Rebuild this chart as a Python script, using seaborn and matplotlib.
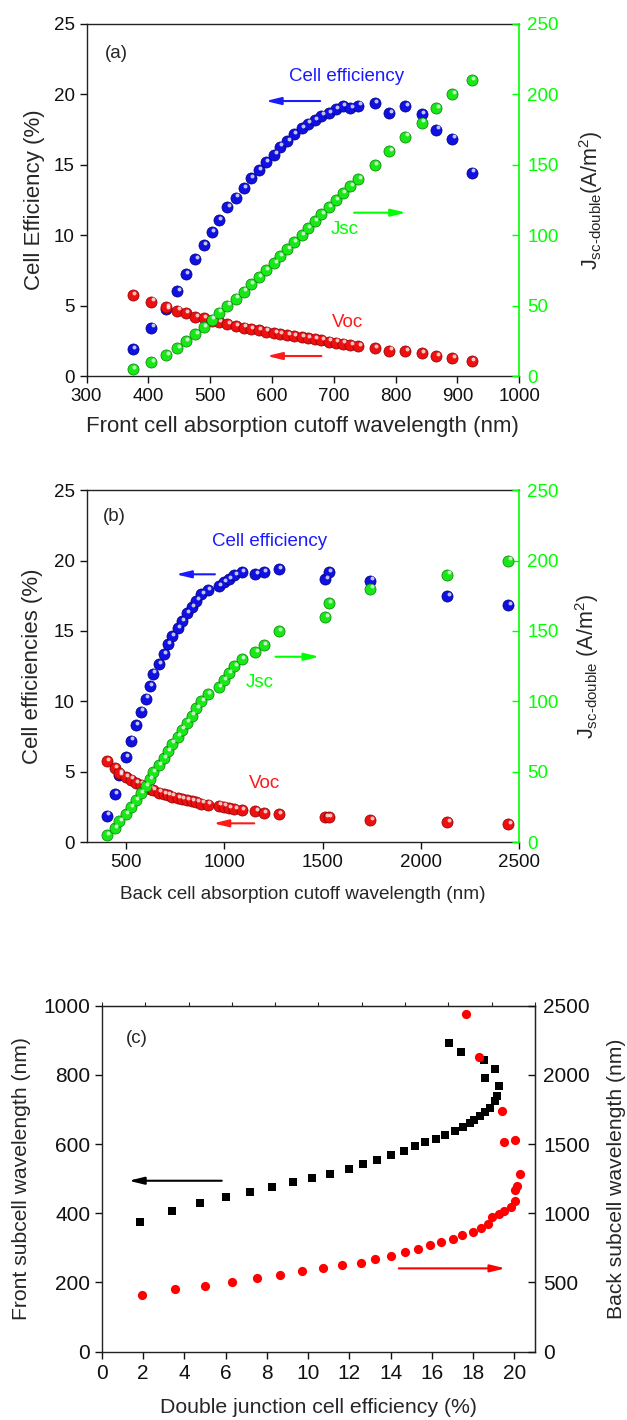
import numpy as np
import matplotlib
matplotlib.use("Agg")
import matplotlib.pyplot as plt
import matplotlib.transforms as mtransforms
import seaborn as sns

# ---------------- data ----------------
# panels (a)/(b): shared configurations
efficiency = [1.89, 3.43, 4.75, 6.04, 7.22, 8.31, 9.28, 10.2, 11.08, 11.98, 12.67, 13.37,
              14.04, 14.65, 15.2, 15.72, 16.29, 16.69, 17.16, 17.59, 17.92, 18.18, 18.49,
              18.66, 18.94, 19.18, 19.01, 19.2, 19.37, 18.66, 19.15, 18.58, 17.5, 16.86, 14.44]
voc = [5.75, 5.28, 4.92, 4.64, 4.45, 4.21, 4.1, 3.9, 3.81, 3.69, 3.53, 3.43, 3.34, 3.24,
       3.15, 3.05, 2.98, 2.91, 2.84, 2.75, 2.68, 2.6, 2.53, 2.44, 2.37, 2.3, 2.22, 2.1,
       2.0, 1.81, 1.77, 1.6, 1.42, 1.29, 1.07]
jsc = [5, 10, 15, 20, 25, 30, 35, 40, 45, 50, 55, 60, 65, 70, 75, 80, 85, 90, 95, 100,
       105, 110, 115, 120, 125, 130, 135, 140, 150, 160, 170, 180, 190, 200, 210]
front_wl = [375, 405, 429, 447, 461, 476, 490, 503, 514, 528, 542, 554, 566, 579, 590, 604,
            613, 625, 636, 649, 658, 669, 680, 692, 704, 715, 727, 740, 767, 790, 816, 843,
            866, 892, 923]
back_wl = [405, 443, 467, 501, 526, 551, 575, 600, 623, 636, 669, 692, 713, 734, 763, 784,
           811, 835, 859, 884, 917, 972, 998, 1024, 1052, 1091, 1159, 1200, 1280, 1514,
           1531, 1743, 2135, 2445]

# panel (c)
c_eff_front = [1.84, 3.39, 4.75, 6.01, 7.19, 8.26, 9.26, 10.19, 11.08, 11.98, 12.66, 13.33,
               14.01, 14.63, 15.17, 15.68, 16.22, 16.65, 17.11, 17.5, 17.87, 18.06, 18.33,
               18.59, 18.84, 19.05, 19.15, 19.28, 18.59, 19.09, 18.51, 17.44, 16.82]
c_front_wl = [376, 408, 429, 448, 461, 477, 490, 503, 514, 528, 542, 554, 567, 580, 593, 605,
              615, 626, 639, 650, 662, 670, 681, 694, 705, 725, 739, 768, 790, 816, 843, 865, 893]
c_eff_back = [1.94, 3.53, 5.0, 6.32, 7.52, 8.66, 9.71, 10.7, 11.63, 12.56, 13.24, 14.0, 14.69,
              15.35, 15.91, 16.47, 17.02, 17.48, 17.98, 18.39, 18.72, 18.93, 19.28, 19.51,
              19.83, 20.06, 20.02, 20.12, 20.29, 19.51, 20.06, 19.43, 18.3, 17.67]
c_back_wl = [409, 450, 477, 503, 530, 556, 580, 602, 626, 643, 670, 694, 718, 739, 768, 790,
             814, 841, 865, 891, 922, 975, 995, 1019, 1048, 1091, 1168, 1197, 1281, 1512,
             1527, 1741, 2131, 2442]

# ---------------- style ----------------
sns.set_style("ticks")
plt.rcParams['font.family'] = ['Liberation Sans', 'DejaVu Sans']
plt.rcParams['mathtext.fontset'] = 'custom'
plt.rcParams['mathtext.rm'] = 'Liberation Sans'
plt.rcParams['mathtext.it'] = 'Liberation Sans'

BLUE, RED, GREEN = '#1010e0', '#ee1010', '#18e818'
LGREEN = '#00ff00'
TICK_FS, ANN_FS = 13.5, 13.5

fig = plt.figure(figsize=(6.27, 14.2), dpi=100)


def spheres(ax, x, y, color, dark):
    sns.scatterplot(x=x, y=y, ax=ax, s=64, color=color, edgecolor=dark, linewidth=0.5,
                    zorder=3, legend=False)
    tr = mtransforms.offset_copy(ax.transData, fig=fig, x=0.9, y=1.6, units='points')
    ax.scatter(x, y, s=8, color='white', alpha=0.75, linewidths=0, zorder=4, transform=tr)


def style_axes(ax, ax2):
    for s in ['left', 'bottom', 'top']:
        ax.spines[s].set_color('#222222')
        ax.spines[s].set_linewidth(1.0)
    ax.spines['right'].set_visible(False)
    ax.tick_params(axis='both', direction='out', length=5, width=1.0, labelsize=TICK_FS,
                   colors='#111111', top=False, right=False)
    ax2.spines['right'].set_color(LGREEN)
    ax2.spines['right'].set_linewidth(1.2)
    for s in ['left', 'bottom', 'top']:
        ax2.spines[s].set_visible(False)
    ax2.tick_params(axis='y', direction='in', length=5, width=1.0, labelsize=TICK_FS,
                    colors=LGREEN, pad=6)


def arrow(ax, tail, head, color, lw=1.5):
    ax.annotate('', xy=head, xytext=tail,
                arrowprops=dict(arrowstyle='-|>,head_length=0.9,head_width=0.22',
                                color=color, lw=lw, shrinkA=0, shrinkB=0))


# ---------------- panel (a) ----------------
axa = fig.add_axes([0.138, 0.7352, 0.69, 0.2479])
axa2 = axa.twinx()
spheres(axa, front_wl, efficiency, BLUE, '#00007a')
spheres(axa, front_wl, voc, RED, '#8a0000')
spheres(axa2, front_wl, jsc, GREEN, '#077a07')
axa.set_xlim(300, 1000)
axa.set_ylim(0, 25)
axa2.set_ylim(0, 250)
axa.set_xticks(np.arange(300, 1001, 100))
axa.set_yticks(np.arange(0, 26, 5))
axa2.set_yticks(np.arange(0, 251, 50))
style_axes(axa, axa2)
axa.set_xlabel('Front cell absorption cutoff wavelength (nm)', fontsize=16)
axa.xaxis.set_label_coords(0.5, -0.115)
axa.set_ylabel('Cell Efficiency (%)', fontsize=16, labelpad=6)
axa2.set_ylabel(r'J$_{\mathrm{sc‐double}}$(A/m$^2$)', fontsize=15.5, labelpad=13)
axa.text(348, 22.9, '(a)', fontsize=ANN_FS, ha='center', va='center')
axa.text(627, 21.26, 'Cell efficiency', fontsize=ANN_FS, color='#1a1aff', ha='left', va='center')
axa.text(718, 10.37, 'Jsc', fontsize=ANN_FS, color=LGREEN, ha='center', va='center')
axa.text(722, 3.79, 'Voc', fontsize=ANN_FS, color='#ff1a1a', ha='center', va='center')
arrow(axa, (678, 19.53), (590, 19.53), '#1a1aff')
arrow(axa, (733, 11.6), (817, 11.6), LGREEN)
arrow(axa, (680, 1.42), (592, 1.42), '#ff1a1a')

# ---------------- panel (b) ----------------
n_b = len(back_wl)
axb = fig.add_axes([0.138, 0.4068, 0.69, 0.2481])
axb2 = axb.twinx()
spheres(axb, back_wl, efficiency[:n_b], BLUE, '#00007a')
spheres(axb, back_wl, voc[:n_b], RED, '#8a0000')
spheres(axb2, back_wl, jsc[:n_b], GREEN, '#077a07')
axb.set_xlim(300, 2500)
axb.set_ylim(0, 25)
axb2.set_ylim(0, 250)
axb.set_xticks(np.arange(500, 2501, 500))
axb.set_yticks(np.arange(0, 26, 5))
axb2.set_yticks(np.arange(0, 251, 50))
style_axes(axb, axb2)
axb.set_xlabel('Back cell absorption cutoff wavelength (nm)', fontsize=13.7, labelpad=11)
axb.set_ylabel('Cell efficiencies (%)', fontsize=16, labelpad=8)
axb2.set_ylabel(r'J$_{\mathrm{sc‐double}}$ (A/m$^2$)', fontsize=15.5, labelpad=10)
axb.text(443, 23.15, '(b)', fontsize=ANN_FS, ha='center', va='center')
axb.text(939, 21.38, 'Cell efficiency', fontsize=ANN_FS, color='#1a1aff', ha='left', va='center')
axb.text(1180, 11.33, 'Jsc', fontsize=ANN_FS, color=LGREEN, ha='center', va='center')
axb.text(1206, 4.19, 'Voc', fontsize=ANN_FS, color='#ff1a1a', ha='center', va='center')
arrow(axb, (953, 19.02), (755, 19.02), '#1a1aff')
arrow(axb, (1261, 13.17), (1484, 13.17), LGREEN)
arrow(axb, (1153, 1.35), (945, 1.35), '#ff1a1a')

# ---------------- panel (c) ----------------
axc = fig.add_axes([0.1627, 0.0481, 0.6903, 0.2437])
axc2 = axc.twinx()
sns.scatterplot(x=c_eff_front, y=c_front_wl, ax=axc, marker='s', s=38, color='black',
                edgecolor='black', linewidth=0, legend=False, zorder=3)
sns.scatterplot(x=c_eff_back, y=c_back_wl, ax=axc2, marker='o', s=44, color='#ff0000',
                edgecolor='#ff0000', linewidth=0, legend=False, zorder=3)
axc.set_xlim(0, 21)
axc.set_ylim(0, 1000)
axc2.set_ylim(0, 2500)
axc.set_xticks(np.arange(0, 21, 2))
axc.set_yticks(np.arange(0, 1001, 200))
axc2.set_yticks(np.arange(0, 2501, 500))
for s in ['left', 'bottom', 'top', 'right']:
    axc.spines[s].set_color('#222222')
    axc.spines[s].set_linewidth(1.0)
for s in ['left', 'bottom', 'top']:
    axc2.spines[s].set_visible(False)
axc2.spines['right'].set_color('#222222')
axc.tick_params(axis='both', direction='out', length=5, width=1.0, labelsize=15,
                colors='#111111', right=False)
axc2.tick_params(axis='y', direction='in', length=5, width=1.0, labelsize=15,
                 colors='#111111', pad=6)
topax = axc.secondary_xaxis('top')
topax.set_xticks(np.linspace(0, 21, 11))
topax.tick_params(direction='out', length=3, width=0.8, labeltop=False)
axc.set_xlabel('Double junction cell efficiency (%)', fontsize=15.3)
axc.xaxis.set_label_coords(0.5, -0.135)
axc.set_ylabel('Front subcell wavelength (nm)', fontsize=15.2, labelpad=9)
axc2.set_ylabel('Back subcell wavelength (nm)', fontsize=15.2, labelpad=12)
axc.text(1.69, 905.6, '(c)', fontsize=ANN_FS, ha='center', va='center')
arrow(axc, (5.81, 494), (1.3, 494), 'black')
arrow(axc, (14.4, 240.8), (19.57, 240.8), '#ff0000')

fig.savefig('out.png', dpi=100)
